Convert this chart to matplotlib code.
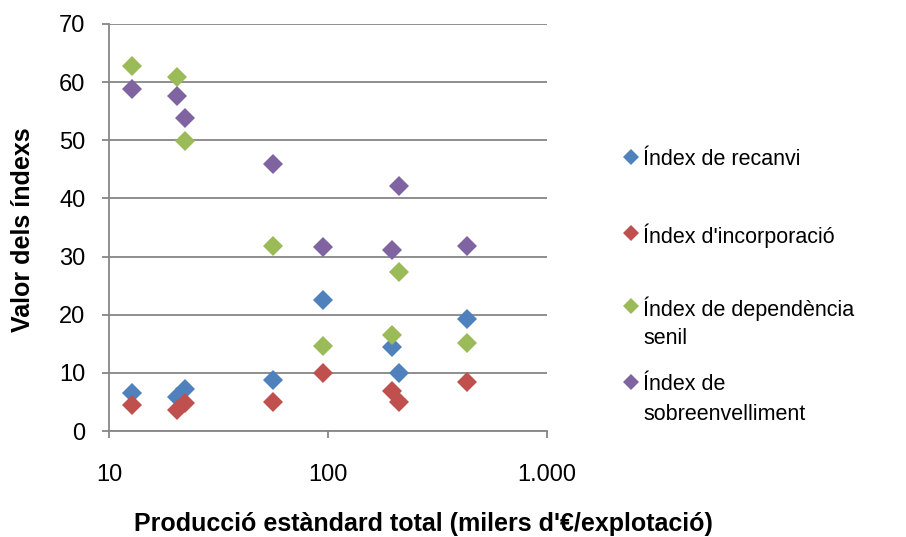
import matplotlib
matplotlib.use("Agg")
import matplotlib.pyplot as plt
from matplotlib.ticker import FixedLocator, FixedFormatter, NullLocator

plt.rcParams['font.family'] = ['Liberation Sans', 'DejaVu Sans']

# Data (x: standard production, thousands €/holding)
x_vals = [12.8, 20.5, 22.2, 55.9, 94.6, 197, 211, 430]
recanvi = [6.5, 5.9, 7.2, 8.8, 22.6, 14.4, 9.9, 19.2]
incorporacio = [4.4, 3.6, 4.9, 5.0, 9.9, 6.9, 5.0, 8.5]
dependencia = [62.8, 60.8, 49.8, 31.8, 14.7, 16.5, 27.4, 15.1]
sobreenv = [58.9, 57.6, 53.8, 45.9, 31.6, 31.2, 42.2, 31.9]

series_labels = ["Índex de recanvi", "Índex d'incorporació",
                 "Índex de dependència\nsenil", "Índex de\nsobreenvelliment"]
colors = ["#4F81BD", "#C0504D", "#9BBB59", "#8064A2"]

x_ticks = [10, 100, 1000]
x_ticklabels = ["10", "100", "1.000"]
y_ticks = [0, 10, 20, 30, 40, 50, 60, 70]

W, H = 906, 537
fig = plt.figure(figsize=(W/100, H/100), dpi=100)
ax = fig.add_axes([109/W, 1-431/H, (547-109)/W, (431-24)/H])

grid_c = "#868686"
for y in y_ticks:
    ax.axhline(y, color=grid_c, lw=1.3, zorder=1)

for vals, lab, c in zip([recanvi, incorporacio, dependencia, sobreenv], series_labels, colors):
    ax.plot(x_vals, vals, linestyle='none', marker='D', ms=10.5, color=c,
            markeredgewidth=0, label=lab, zorder=3)

ax.set_xscale('log')
ax.set_xlim(10, 1000)
ax.set_ylim(0, 70)
ax.xaxis.set_major_locator(FixedLocator(x_ticks))
ax.xaxis.set_major_formatter(FixedFormatter(x_ticklabels))
ax.xaxis.set_minor_locator(NullLocator())
ax.set_yticks(y_ticks)

for s in ['top', 'right']:
    ax.spines[s].set_visible(False)
for s in ['left', 'bottom']:
    ax.spines[s].set_color(grid_c)
    ax.spines[s].set_linewidth(1.3)
ax.tick_params(axis='both', colors=grid_c, width=1.3, length=5, labelsize=17,
               labelcolor='black')
ax.tick_params(axis='x', pad=19)
ax.tick_params(axis='y', pad=12)

fig.text(23/W, 1-230/H, "Valor dels índexs", rotation=90, ha='center', va='center',
         fontsize=18, fontweight='bold')
fig.text(423/W, 1-531/H, "Producció estàndard total (milers d'€/explotació)",
         ha='center', va='baseline', fontsize=18, fontweight='bold')

# Legend (drawn manually so markers align with the first line of each label)
leg_first_y = [157, 233, 306, 382]
line_step = 30
for lab, c, yy in zip(series_labels, colors, leg_first_y):
    ax.plot([630.5/W], [1-yy/H], transform=fig.transFigure, clip_on=False,
            marker='D', ms=8, color=c, markeredgewidth=0, linestyle='none')
    for i, line in enumerate(lab.split("\n")):
        fig.text(643/W, 1-(yy + i*line_step)/H, line, ha='left', va='center_baseline',
                 fontsize=15.5)

fig.savefig("out.png", dpi=100)
